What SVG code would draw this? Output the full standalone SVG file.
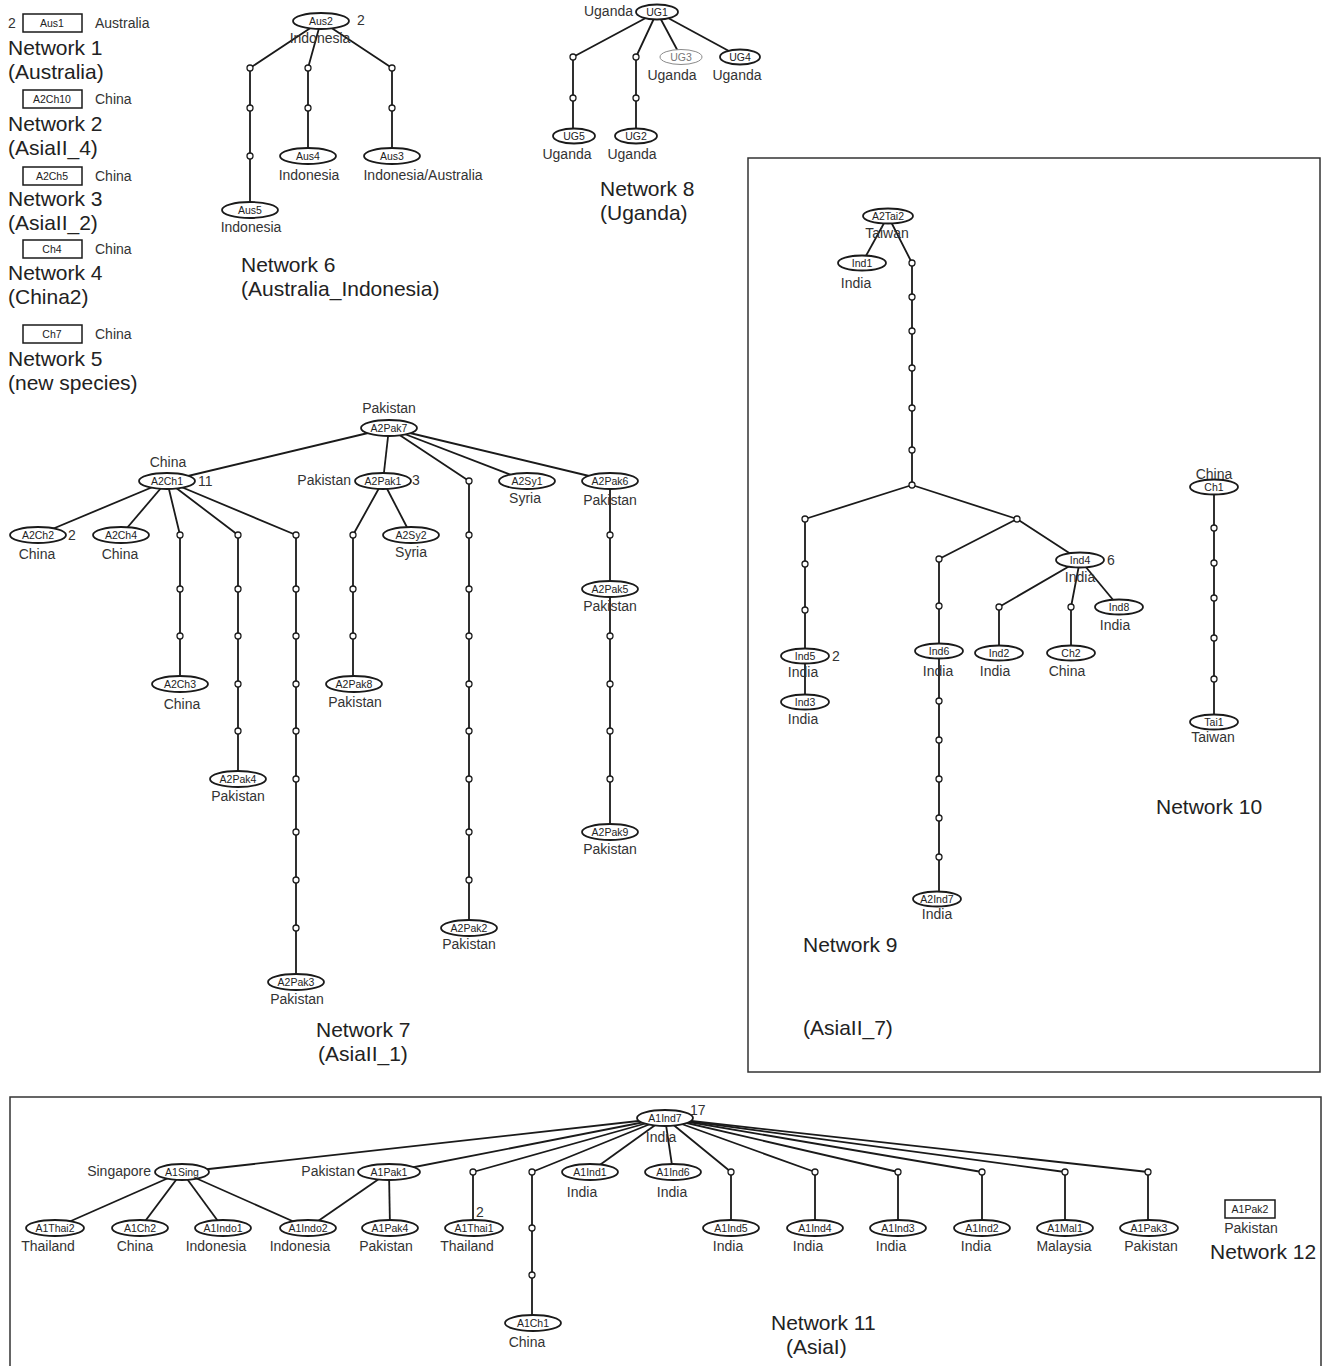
<svg xmlns="http://www.w3.org/2000/svg" xmlns:xlink="http://www.w3.org/1999/xlink" width="1324" height="1366" viewBox="0 0 1324 1366">
<style>
.bg{fill:#fff}
.e{fill:#fff;stroke:#1a1a1a;stroke-width:1.8}
.eg{fill:#fff;stroke:#8a8a8a;stroke-width:1}
.r{fill:#fff;stroke:#1a1a1a;stroke-width:1.5}
.m{fill:#fff;stroke:#1a1a1a;stroke-width:1.3}
.c{fill:none;stroke:#1a1a1a;stroke-width:1.8;stroke-linejoin:round}
.box{fill:none;stroke:#333;stroke-width:1.5}
text{font-family:"Liberation Sans",Arial,Helvetica,sans-serif;dominant-baseline:central}
.t{font-size:10.5px;fill:#222;text-anchor:middle}
.tg{font-size:10.5px;fill:#777;text-anchor:middle}
.l{font-size:14px;fill:#333;text-anchor:middle}
.ls{font-size:14px;fill:#333}
.le{font-size:14px;fill:#333;text-anchor:end}
.b{font-size:21px;fill:#222;dominant-baseline:auto}
</style>
<defs>
<circle id="mv" r="3" class="m"/>
</defs>
<rect class="bg" x="0" y="0" width="1324" height="1366"/>
<rect class="box" x="748" y="158" width="572" height="914"/>
<rect class="box" x="10" y="1097" width="1311" height="275"/>

<g id="legend">
<text class="ls" x="8" y="23">2</text>
<g id="Aus1"><rect class="r" x="23" y="14" width="59" height="18"/><text class="t" x="52" y="23">Aus1</text><text class="ls" x="95" y="23">Australia</text></g>
<text class="b" x="8" y="55">Network 1</text>
<text class="b" x="8" y="79">(Australia)</text>
<g id="A2Ch10"><rect class="r" x="23" y="90" width="59" height="18"/><text class="t" x="52" y="99">A2Ch10</text><text class="ls" x="95" y="99">China</text></g>
<text class="b" x="8" y="131">Network 2</text>
<text class="b" x="8" y="155">(AsiaII_4)</text>
<g id="A2Ch5"><rect class="r" x="23" y="167" width="59" height="18"/><text class="t" x="52" y="176">A2Ch5</text><text class="ls" x="95" y="176">China</text></g>
<text class="b" x="8" y="206">Network 3</text>
<text class="b" x="8" y="230">(AsiaII_2)</text>
<g id="Ch4"><rect class="r" x="23" y="240" width="59" height="18"/><text class="t" x="52" y="249">Ch4</text><text class="ls" x="95" y="249">China</text></g>
<text class="b" x="8" y="280">Network 4</text>
<text class="b" x="8" y="304">(China2)</text>
<g id="Ch7"><rect class="r" x="23" y="325" width="59" height="18"/><text class="t" x="52" y="334">Ch7</text><text class="ls" x="95" y="334">China</text></g>
<text class="b" x="8" y="366">Network 5</text>
<text class="b" x="8" y="390">(new species)</text>
</g>

<g id="connectors">
<!-- Network 6 -->
<polyline class="c" points="321,21 250,68 250,210"/>
<polyline class="c" points="321,21 308,68 308,156"/>
<polyline class="c" points="321,21 392,68 392,156"/>
<!-- Network 8 -->
<polyline class="c" points="657,12 573,57 573,136"/>
<polyline class="c" points="657,12 636,57 636,136"/>
<polyline class="c" points="657,12 681,57"/>
<polyline class="c" points="657,12 740,57"/>
<!-- Network 7 -->
<polyline class="c" points="389,428 167,481"/>
<polyline class="c" points="389,428 383,481"/>
<polyline class="c" points="389,428 469,481 469,928"/>
<polyline class="c" points="389,428 527,481"/>
<polyline class="c" points="389,428 610,481 610,832"/>
<polyline class="c" points="167,481 38,535"/>
<polyline class="c" points="167,481 121,535"/>
<polyline class="c" points="167,481 180,535 180,684"/>
<polyline class="c" points="167,481 238,535 238,779"/>
<polyline class="c" points="167,481 296,535 296,982"/>
<polyline class="c" points="383,481 353,535 353,684"/>
<polyline class="c" points="383,481 411,535"/>
<!-- Network 9 -->
<polyline class="c" points="888,216 862,263"/>
<polyline class="c" points="888,216 912,263 912,485"/>
<polyline class="c" points="912,485 805,519 805,702"/>
<polyline class="c" points="912,485 1017,519 1080,560"/>
<polyline class="c" points="1017,519 939,559 939,899"/>
<polyline class="c" points="1080,560 999,607 999,653"/>
<polyline class="c" points="1080,560 1071,607 1071,653"/>
<polyline class="c" points="1080,560 1119,607"/>
<!-- Network 10 -->
<polyline class="c" points="1214,487 1214,722"/>
<!-- Network 11 -->
<polyline class="c" points="665,1118 182,1172"/>
<polyline class="c" points="665,1118 389,1172"/>
<polyline class="c" points="665,1118 473,1172 473,1228"/>
<polyline class="c" points="665,1118 532,1172 532,1323"/>
<polyline class="c" points="665,1118 590,1172"/>
<polyline class="c" points="665,1118 673,1172"/>
<polyline class="c" points="665,1118 731,1172 731,1228"/>
<polyline class="c" points="665,1118 815,1172 815,1228"/>
<polyline class="c" points="665,1118 898,1172 898,1228"/>
<polyline class="c" points="665,1118 982,1172 982,1228"/>
<polyline class="c" points="665,1118 1065,1172 1065,1228"/>
<polyline class="c" points="665,1118 1148,1172 1148,1228"/>
<polyline class="c" points="182,1172 55,1228"/>
<polyline class="c" points="182,1172 140,1228"/>
<polyline class="c" points="182,1172 223,1228"/>
<polyline class="c" points="182,1172 308,1228"/>
<polyline class="c" points="389,1172 308,1228"/>
<polyline class="c" points="389,1172 390,1228"/>
</g>

<g id="median-vectors">
<g id="m6-1"><use xlink:href="#mv" x="250" y="68"/></g>
<g id="m6-2"><use xlink:href="#mv" x="250" y="108"/></g>
<g id="m6-3"><use xlink:href="#mv" x="250" y="156"/></g>
<g id="m6-4"><use xlink:href="#mv" x="308" y="68"/></g>
<g id="m6-5"><use xlink:href="#mv" x="308" y="108"/></g>
<g id="m6-6"><use xlink:href="#mv" x="392" y="68"/></g>
<g id="m6-7"><use xlink:href="#mv" x="392" y="108"/></g>
<g id="m8-1"><use xlink:href="#mv" x="573" y="57"/></g>
<g id="m8-2"><use xlink:href="#mv" x="573" y="98"/></g>
<g id="m8-3"><use xlink:href="#mv" x="636" y="57"/></g>
<g id="m8-4"><use xlink:href="#mv" x="636" y="98"/></g>
<g id="m7-a1"><use xlink:href="#mv" x="180" y="535"/></g>
<g id="m7-a2"><use xlink:href="#mv" x="180" y="589"/></g>
<g id="m7-a3"><use xlink:href="#mv" x="180" y="636"/></g>
<g id="m7-b1"><use xlink:href="#mv" x="238" y="535"/></g>
<g id="m7-b2"><use xlink:href="#mv" x="238" y="589"/></g>
<g id="m7-b3"><use xlink:href="#mv" x="238" y="636"/></g>
<g id="m7-b4"><use xlink:href="#mv" x="238" y="684"/></g>
<g id="m7-b5"><use xlink:href="#mv" x="238" y="731"/></g>
<g id="m7-c1"><use xlink:href="#mv" x="296" y="535"/></g>
<g id="m7-c2"><use xlink:href="#mv" x="296" y="589"/></g>
<g id="m7-c3"><use xlink:href="#mv" x="296" y="636"/></g>
<g id="m7-c4"><use xlink:href="#mv" x="296" y="684"/></g>
<g id="m7-c5"><use xlink:href="#mv" x="296" y="731"/></g>
<g id="m7-c6"><use xlink:href="#mv" x="296" y="779"/></g>
<g id="m7-c7"><use xlink:href="#mv" x="296" y="832"/></g>
<g id="m7-c8"><use xlink:href="#mv" x="296" y="880"/></g>
<g id="m7-c9"><use xlink:href="#mv" x="296" y="928"/></g>
<g id="m7-d1"><use xlink:href="#mv" x="353" y="535"/></g>
<g id="m7-d2"><use xlink:href="#mv" x="353" y="589"/></g>
<g id="m7-d3"><use xlink:href="#mv" x="353" y="636"/></g>
<g id="m7-e1"><use xlink:href="#mv" x="469" y="481"/></g>
<g id="m7-e2"><use xlink:href="#mv" x="469" y="535"/></g>
<g id="m7-e3"><use xlink:href="#mv" x="469" y="589"/></g>
<g id="m7-e4"><use xlink:href="#mv" x="469" y="636"/></g>
<g id="m7-e5"><use xlink:href="#mv" x="469" y="684"/></g>
<g id="m7-e6"><use xlink:href="#mv" x="469" y="731"/></g>
<g id="m7-e7"><use xlink:href="#mv" x="469" y="779"/></g>
<g id="m7-e8"><use xlink:href="#mv" x="469" y="832"/></g>
<g id="m7-e9"><use xlink:href="#mv" x="469" y="880"/></g>
<g id="m7-f1"><use xlink:href="#mv" x="610" y="535"/></g>
<g id="m7-f2"><use xlink:href="#mv" x="610" y="636"/></g>
<g id="m7-f3"><use xlink:href="#mv" x="610" y="684"/></g>
<g id="m7-f4"><use xlink:href="#mv" x="610" y="731"/></g>
<g id="m7-f5"><use xlink:href="#mv" x="610" y="779"/></g>
<g id="m9-a1"><use xlink:href="#mv" x="912" y="263"/></g>
<g id="m9-a2"><use xlink:href="#mv" x="912" y="297"/></g>
<g id="m9-a3"><use xlink:href="#mv" x="912" y="331"/></g>
<g id="m9-a4"><use xlink:href="#mv" x="912" y="368"/></g>
<g id="m9-a5"><use xlink:href="#mv" x="912" y="408"/></g>
<g id="m9-a6"><use xlink:href="#mv" x="912" y="450"/></g>
<g id="m9-a7"><use xlink:href="#mv" x="912" y="485"/></g>
<g id="m9-b1"><use xlink:href="#mv" x="805" y="519"/></g>
<g id="m9-b2"><use xlink:href="#mv" x="805" y="564"/></g>
<g id="m9-b3"><use xlink:href="#mv" x="805" y="610"/></g>
<g id="m9-c1"><use xlink:href="#mv" x="1017" y="519"/></g>
<g id="m9-d1"><use xlink:href="#mv" x="939" y="559"/></g>
<g id="m9-d2"><use xlink:href="#mv" x="939" y="606"/></g>
<g id="m9-d3"><use xlink:href="#mv" x="939" y="701"/></g>
<g id="m9-d4"><use xlink:href="#mv" x="939" y="740"/></g>
<g id="m9-d5"><use xlink:href="#mv" x="939" y="779"/></g>
<g id="m9-d6"><use xlink:href="#mv" x="939" y="818"/></g>
<g id="m9-d7"><use xlink:href="#mv" x="939" y="857"/></g>
<g id="m9-e1"><use xlink:href="#mv" x="999" y="607"/></g>
<g id="m9-f1"><use xlink:href="#mv" x="1071" y="607"/></g>
<g id="m10-1"><use xlink:href="#mv" x="1214" y="528"/></g>
<g id="m10-2"><use xlink:href="#mv" x="1214" y="563"/></g>
<g id="m10-3"><use xlink:href="#mv" x="1214" y="598"/></g>
<g id="m10-4"><use xlink:href="#mv" x="1214" y="638"/></g>
<g id="m10-5"><use xlink:href="#mv" x="1214" y="679"/></g>
<g id="m11-1"><use xlink:href="#mv" x="473" y="1172"/></g>
<g id="m11-2"><use xlink:href="#mv" x="532" y="1172"/></g>
<g id="m11-3"><use xlink:href="#mv" x="532" y="1228"/></g>
<g id="m11-4"><use xlink:href="#mv" x="532" y="1275"/></g>
<g id="m11-5"><use xlink:href="#mv" x="731" y="1172"/></g>
<g id="m11-6"><use xlink:href="#mv" x="815" y="1172"/></g>
<g id="m11-7"><use xlink:href="#mv" x="898" y="1172"/></g>
<g id="m11-8"><use xlink:href="#mv" x="982" y="1172"/></g>
<g id="m11-9"><use xlink:href="#mv" x="1065" y="1172"/></g>
<g id="m11-10"><use xlink:href="#mv" x="1148" y="1172"/></g>
</g>

<!-- Network 6 -->
<g id="Aus2"><ellipse class="e" cx="321" cy="21" rx="28" ry="8"/><text class="t" x="321" y="21">Aus2</text><text class="ls" x="357" y="20">2</text><text class="l" x="320" y="38">Indonesia</text></g>
<g id="Aus4"><ellipse class="e" cx="308" cy="156" rx="28" ry="8"/><text class="t" x="308" y="156">Aus4</text><text class="l" x="309" y="175">Indonesia</text></g>
<g id="Aus3"><ellipse class="e" cx="392" cy="156" rx="28" ry="8"/><text class="t" x="392" y="156">Aus3</text><text class="l" x="423" y="175">Indonesia/Australia</text></g>
<g id="Aus5"><ellipse class="e" cx="250" cy="210" rx="28" ry="8"/><text class="t" x="250" y="210">Aus5</text><text class="l" x="251" y="227">Indonesia</text></g>
<text class="b" x="241" y="272">Network 6</text>
<text class="b" x="241" y="296">(Australia_Indonesia)</text>

<!-- Network 8 -->
<g id="UG1"><ellipse class="e" cx="657" cy="12" rx="21" ry="7.5"/><text class="t" x="657" y="12">UG1</text><text class="le" x="633" y="11">Uganda</text></g>
<g id="UG3"><ellipse class="eg" cx="681" cy="57" rx="21" ry="7.5"/><text class="tg" x="681" y="57">UG3</text><text class="l" x="672" y="75">Uganda</text></g>
<g id="UG4"><ellipse class="e" cx="740" cy="57" rx="20" ry="7.5"/><text class="t" x="740" y="57">UG4</text><text class="l" x="737" y="75">Uganda</text></g>
<g id="UG5"><ellipse class="e" cx="574" cy="136" rx="21" ry="7.5"/><text class="t" x="574" y="136">UG5</text><text class="l" x="567" y="154">Uganda</text></g>
<g id="UG2"><ellipse class="e" cx="636" cy="136" rx="21" ry="7.5"/><text class="t" x="636" y="136">UG2</text><text class="l" x="632" y="154">Uganda</text></g>
<text class="b" x="600" y="196">Network 8</text>
<text class="b" x="600" y="220">(Uganda)</text>

<!-- Network 7 -->
<g id="A2Pak7"><ellipse class="e" cx="389" cy="428" rx="28" ry="8"/><text class="t" x="389" y="428">A2Pak7</text><text class="l" x="389" y="408">Pakistan</text></g>
<g id="A2Ch1"><ellipse class="e" cx="167" cy="481" rx="28" ry="8"/><text class="t" x="167" y="481">A2Ch1</text><text class="l" x="168" y="462">China</text><text class="ls" x="198" y="481">11</text></g>
<g id="A2Ch2"><ellipse class="e" cx="38" cy="535" rx="28" ry="8"/><text class="t" x="38" y="535">A2Ch2</text><text class="ls" x="68" y="535">2</text><text class="l" x="37" y="554">China</text></g>
<g id="A2Ch4"><ellipse class="e" cx="121" cy="535" rx="28" ry="8"/><text class="t" x="121" y="535">A2Ch4</text><text class="l" x="120" y="554">China</text></g>
<g id="A2Ch3"><ellipse class="e" cx="180" cy="684" rx="28" ry="8"/><text class="t" x="180" y="684">A2Ch3</text><text class="l" x="182" y="704">China</text></g>
<g id="A2Pak4"><ellipse class="e" cx="238" cy="779" rx="28" ry="8"/><text class="t" x="238" y="779">A2Pak4</text><text class="l" x="238" y="796">Pakistan</text></g>
<g id="A2Pak3"><ellipse class="e" cx="296" cy="982" rx="28" ry="8"/><text class="t" x="296" y="982">A2Pak3</text><text class="l" x="297" y="999">Pakistan</text></g>
<g id="A2Pak1"><ellipse class="e" cx="383" cy="481" rx="28" ry="8"/><text class="t" x="383" y="481">A2Pak1</text><text class="le" x="351" y="480">Pakistan</text><text class="ls" x="412" y="480">3</text></g>
<g id="A2Sy2"><ellipse class="e" cx="411" cy="535" rx="28" ry="8"/><text class="t" x="411" y="535">A2Sy2</text><text class="l" x="411" y="552">Syria</text></g>
<g id="A2Pak8"><ellipse class="e" cx="354" cy="684" rx="28" ry="8"/><text class="t" x="354" y="684">A2Pak8</text><text class="l" x="355" y="702">Pakistan</text></g>
<g id="A2Pak2"><ellipse class="e" cx="469" cy="928" rx="28" ry="8"/><text class="t" x="469" y="928">A2Pak2</text><text class="l" x="469" y="944">Pakistan</text></g>
<g id="A2Sy1"><ellipse class="e" cx="527" cy="481" rx="28" ry="8"/><text class="t" x="527" y="481">A2Sy1</text><text class="l" x="525" y="498">Syria</text></g>
<g id="A2Pak6"><ellipse class="e" cx="610" cy="481" rx="28" ry="8"/><text class="t" x="610" y="481">A2Pak6</text><text class="l" x="610" y="500">Pakistan</text></g>
<g id="A2Pak5"><ellipse class="e" cx="610" cy="589" rx="28" ry="8"/><text class="t" x="610" y="589">A2Pak5</text><text class="l" x="610" y="606">Pakistan</text></g>
<g id="A2Pak9"><ellipse class="e" cx="610" cy="832" rx="28" ry="8"/><text class="t" x="610" y="832">A2Pak9</text><text class="l" x="610" y="849">Pakistan</text></g>
<text class="b" x="316" y="1037">Network 7</text>
<text class="b" x="318" y="1061">(AsiaII_1)</text>

<!-- Network 9 -->
<g id="A2Tai2"><ellipse class="e" cx="888" cy="216" rx="25" ry="7.5"/><text class="t" x="888" y="216">A2Tai2</text><text class="l" x="887" y="233">Taiwan</text></g>
<g id="Ind1"><ellipse class="e" cx="862" cy="263" rx="24" ry="7.5"/><text class="t" x="862" y="263">Ind1</text><text class="l" x="856" y="283">India</text></g>
<g id="Ind5"><ellipse class="e" cx="805" cy="656" rx="24" ry="7.5"/><text class="t" x="805" y="656">Ind5</text><text class="ls" x="832" y="656">2</text><text class="l" x="803" y="672">India</text></g>
<g id="Ind3"><ellipse class="e" cx="805" cy="702" rx="24" ry="7.5"/><text class="t" x="805" y="702">Ind3</text><text class="l" x="803" y="719">India</text></g>
<g id="Ind4"><ellipse class="e" cx="1080" cy="560" rx="24" ry="7.5"/><text class="t" x="1080" y="560">Ind4</text><text class="ls" x="1107" y="560">6</text><text class="l" x="1080" y="577">India</text></g>
<g id="Ind6"><ellipse class="e" cx="939" cy="651" rx="24" ry="7.5"/><text class="t" x="939" y="651">Ind6</text><text class="l" x="938" y="671">India</text></g>
<g id="Ind2"><ellipse class="e" cx="999" cy="653" rx="24" ry="7.5"/><text class="t" x="999" y="653">Ind2</text><text class="l" x="995" y="671">India</text></g>
<g id="Ch2"><ellipse class="e" cx="1071" cy="653" rx="24" ry="7.5"/><text class="t" x="1071" y="653">Ch2</text><text class="l" x="1067" y="671">China</text></g>
<g id="Ind8"><ellipse class="e" cx="1119" cy="607" rx="24" ry="7.5"/><text class="t" x="1119" y="607">Ind8</text><text class="l" x="1115" y="625">India</text></g>
<g id="A2Ind7"><ellipse class="e" cx="937" cy="899" rx="24" ry="7.5"/><text class="t" x="937" y="899">A2Ind7</text><text class="l" x="937" y="914">India</text></g>
<text class="b" x="803" y="952">Network 9</text>
<text class="b" x="803" y="1035">(AsiaII_7)</text>

<!-- Network 10 -->
<g id="Ch1"><ellipse class="e" cx="1214" cy="487" rx="24" ry="7.5"/><text class="t" x="1214" y="487">Ch1</text><text class="l" x="1214" y="474">China</text></g>
<g id="Tai1"><ellipse class="e" cx="1214" cy="722" rx="24" ry="7.5"/><text class="t" x="1214" y="722">Tai1</text><text class="l" x="1213" y="737">Taiwan</text></g>
<text class="b" x="1156" y="814">Network 10</text>

<!-- Network 11 -->
<g id="A1Ind7"><ellipse class="e" cx="665" cy="1118" rx="28" ry="8"/><text class="t" x="665" y="1118">A1Ind7</text><text class="ls" x="690" y="1110">17</text><text class="l" x="661" y="1137">India</text></g>
<g id="A1Sing"><ellipse class="e" cx="182" cy="1172" rx="27" ry="8"/><text class="t" x="182" y="1172">A1Sing</text><text class="le" x="151" y="1171">Singapore</text></g>
<g id="A1Pak1"><ellipse class="e" cx="389" cy="1172" rx="31" ry="8"/><text class="t" x="389" y="1172">A1Pak1</text><text class="le" x="355" y="1171">Pakistan</text></g>
<g id="A1Thai2"><ellipse class="e" cx="55" cy="1228" rx="29" ry="8"/><text class="t" x="55" y="1228">A1Thai2</text><text class="l" x="48" y="1246">Thailand</text></g>
<g id="A1Ch2"><ellipse class="e" cx="140" cy="1228" rx="28" ry="8"/><text class="t" x="140" y="1228">A1Ch2</text><text class="l" x="135" y="1246">China</text></g>
<g id="A1Indo1"><ellipse class="e" cx="223" cy="1228" rx="28" ry="8"/><text class="t" x="223" y="1228">A1Indo1</text><text class="l" x="216" y="1246">Indonesia</text></g>
<g id="A1Indo2"><ellipse class="e" cx="308" cy="1228" rx="28" ry="8"/><text class="t" x="308" y="1228">A1Indo2</text><text class="l" x="300" y="1246">Indonesia</text></g>
<g id="A1Pak4"><ellipse class="e" cx="390" cy="1228" rx="28" ry="8"/><text class="t" x="390" y="1228">A1Pak4</text><text class="l" x="386" y="1246">Pakistan</text></g>
<g id="A1Thai1"><ellipse class="e" cx="474" cy="1228" rx="29" ry="8"/><text class="t" x="474" y="1228">A1Thai1</text><text class="ls" x="476" y="1212">2</text><text class="l" x="467" y="1246">Thailand</text></g>
<g id="A1Ch1"><ellipse class="e" cx="533" cy="1323" rx="28" ry="8"/><text class="t" x="533" y="1323">A1Ch1</text><text class="l" x="527" y="1342">China</text></g>
<g id="A1Ind1"><ellipse class="e" cx="590" cy="1172" rx="28" ry="8"/><text class="t" x="590" y="1172">A1Ind1</text><text class="l" x="582" y="1192">India</text></g>
<g id="A1Ind6"><ellipse class="e" cx="673" cy="1172" rx="28" ry="8"/><text class="t" x="673" y="1172">A1Ind6</text><text class="l" x="672" y="1192">India</text></g>
<g id="A1Ind5"><ellipse class="e" cx="731" cy="1228" rx="28" ry="8"/><text class="t" x="731" y="1228">A1Ind5</text><text class="l" x="728" y="1246">India</text></g>
<g id="A1Ind4"><ellipse class="e" cx="815" cy="1228" rx="28" ry="8"/><text class="t" x="815" y="1228">A1Ind4</text><text class="l" x="808" y="1246">India</text></g>
<g id="A1Ind3"><ellipse class="e" cx="898" cy="1228" rx="28" ry="8"/><text class="t" x="898" y="1228">A1Ind3</text><text class="l" x="891" y="1246">India</text></g>
<g id="A1Ind2"><ellipse class="e" cx="982" cy="1228" rx="28" ry="8"/><text class="t" x="982" y="1228">A1Ind2</text><text class="l" x="976" y="1246">India</text></g>
<g id="A1Mal1"><ellipse class="e" cx="1065" cy="1228" rx="28" ry="8"/><text class="t" x="1065" y="1228">A1Mal1</text><text class="l" x="1064" y="1246">Malaysia</text></g>
<g id="A1Pak3"><ellipse class="e" cx="1149" cy="1228" rx="29" ry="8"/><text class="t" x="1149" y="1228">A1Pak3</text><text class="l" x="1151" y="1246">Pakistan</text></g>
<text class="b" x="771" y="1330">Network 11</text>
<text class="b" x="786" y="1354">(AsiaI)</text>

<!-- Network 12 -->
<g id="A1Pak2"><rect class="r" x="1225" y="1200" width="50" height="18"/><text class="t" x="1250" y="1209">A1Pak2</text><text class="l" x="1251" y="1228">Pakistan</text></g>
<text class="b" x="1210" y="1259">Network 12</text>
</svg>
